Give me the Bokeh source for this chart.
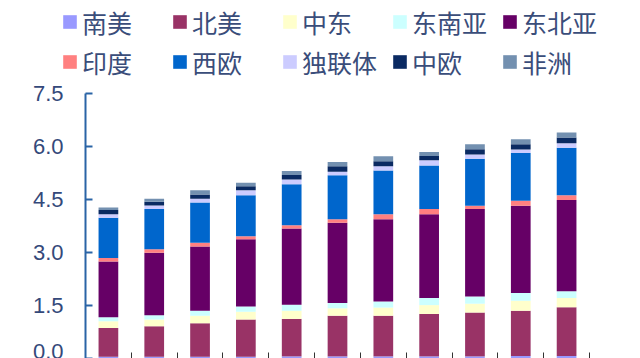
from bokeh.plotting import figure
from bokeh.layouts import column
from bokeh.models import (Range1d, FixedTicker, Legend, LegendItem, ColumnDataSource,
                          NumeralTickFormatter, CustomJSTickFormatter)
from bokeh.embed import file_html
from bokeh.resources import INLINE

# ---- data ----
years = [2015, 2016, 2017, 2018, 2019, 2020, 2021, 2022, 2023, 2024, 2025]
regions = ["南美", "北美", "中东", "东南亚", "东北亚", "印度", "西欧", "独联体", "中欧", "非洲"]

south_america = [0.05, 0.05, 0.05, 0.05, 0.06, 0.06, 0.06, 0.06, 0.06, 0.07, 0.07]
north_america = [0.81, 0.86, 0.95, 1.05, 1.06, 1.15, 1.15, 1.20, 1.24, 1.28, 1.38]
middle_east = [0.19, 0.19, 0.21, 0.22, 0.23, 0.21, 0.23, 0.25, 0.25, 0.28, 0.26]
southeast_asia = [0.12, 0.12, 0.14, 0.15, 0.17, 0.15, 0.17, 0.20, 0.20, 0.22, 0.19]
northeast_asia = [1.57, 1.77, 1.82, 1.90, 2.16, 2.27, 2.33, 2.37, 2.48, 2.47, 2.58]
india = [0.10, 0.10, 0.10, 0.09, 0.09, 0.10, 0.14, 0.15, 0.09, 0.14, 0.14]
western_europe = [1.14, 1.14, 1.14, 1.16, 1.16, 1.24, 1.24, 1.23, 1.33, 1.35, 1.34]
cis = [0.10, 0.10, 0.11, 0.14, 0.13, 0.10, 0.12, 0.15, 0.12, 0.10, 0.13]
central_europe = [0.12, 0.10, 0.12, 0.11, 0.13, 0.16, 0.14, 0.12, 0.15, 0.15, 0.16]
africa = [0.07, 0.09, 0.12, 0.10, 0.11, 0.12, 0.14, 0.11, 0.14, 0.14, 0.14]

y_ticks = [0.0, 1.5, 3.0, 4.5, 6.0, 7.5]

colors = ["#9999ff", "#993366", "#ffffcc", "#ccffff", "#660066",
          "#ff8080", "#0066cc", "#ccccff", "#0a2a62", "#7390b0"]

series = [south_america, north_america, middle_east, southeast_asia, northeast_asia,
          india, western_europe, cis, central_europe, africa]

data = {"year": years}
for name, vals in zip(regions, series):
    data[name] = vals
source = ColumnDataSource(data)

# ---- layout constants ----
W = 640
LH = 80                 # height of the legend strip
MH = 358 - LH           # height of the chart
frame_left, frame_right = 85, 589
top_px = 92.8 - LH      # pixel row of the 7.5 tick inside the chart
zero_px = float(MH)     # pixel row of 0
y_max = y_ticks[-1]
y_end = y_max * zero_px / (zero_px - top_px)

p = figure(width=W, height=MH, output_backend="svg", toolbar_location=None,
           x_range=Range1d(years[0] - 0.5, years[-1] + 0.5),
           y_range=Range1d(0, y_end),
           min_border_left=frame_left, min_border_right=W - frame_right,
           min_border_top=0, min_border_bottom=0)
p.outline_line_color = None
p.xgrid.visible = False
p.ygrid.visible = False

renderers = p.vbar_stack(regions, x="year", width=0.43, source=source,
                         fill_color=colors, line_color=None)

# y axis
ya = p.yaxis[0]
ya.ticker = FixedTicker(ticks=y_ticks)
ya.bounds = (0, y_max)
ya.formatter = NumeralTickFormatter(format="0.0")
ya.axis_line_color = "#2a64a6"
ya.axis_line_width = 2
ya.major_tick_line_color = "#2a64a6"
ya.major_tick_line_width = 2
ya.major_tick_in = 7
ya.major_tick_out = 0
ya.minor_tick_line_color = None
ya.major_label_standoff = 22
ya.major_label_text_font = "Liberation Sans"
ya.major_label_text_font_size = "22px"
ya.major_label_text_color = "#34497a"

# x axis: ticks at category boundaries, labels cut off in the reference
xa = p.xaxis[0]
xa.ticker = FixedTicker(ticks=[y + 0.5 for y in [years[0] - 1] + years])
xa.formatter = CustomJSTickFormatter(code="return ''")
xa.axis_line_color = None
xa.major_tick_in = 6
xa.major_tick_out = 0
xa.major_tick_line_color = "#333333"
xa.minor_tick_line_color = None
xa.major_label_standoff = 0
xa.major_label_text_font_size = "0px"

# ---- legend strip (separate figure so nothing is clipped) ----
lg = figure(width=W, height=LH, output_backend="svg", toolbar_location=None,
            x_range=Range1d(0, 1), y_range=Range1d(0, 1),
            min_border=0, x_axis_location=None, y_axis_location=None)
lg.outline_line_color = None
lg.xgrid.visible = False
lg.ygrid.visible = False
for fig in (lg, p):
    if "frame_align" in fig.properties():
        fig.frame_align = False
# proxy renderers for the legend glyphs (same data, outside the visible range)
proxies = lg.vbar_stack(regions, x="year", width=0.43, source=source,
                        fill_color=colors, line_color=None)

legend_style = dict(orientation="horizontal", glyph_width=17, glyph_height=17,
                    label_standoff=4, label_width=75, spacing=14, padding=0, margin=0,
                    label_text_font="Noto Sans CJK SC", label_text_font_size="25px",
                    label_text_color="#3a4d7a", border_line_color=None,
                    background_fill_alpha=0, label_height=28)

leg1 = Legend(items=[LegendItem(label=regions[i], renderers=[proxies[i]]) for i in range(5)],
              location=(61, LH - 39.5), **legend_style)
leg2 = Legend(items=[LegendItem(label=regions[i], renderers=[proxies[i]]) for i in range(5, 10)],
              location=(61, LH - 79.5), **legend_style)
lg.add_layout(leg1, "center")
lg.add_layout(leg2, "center")

layout = column(lg, p, spacing=0)
open("out.html", "w").write(file_html(layout, INLINE))
